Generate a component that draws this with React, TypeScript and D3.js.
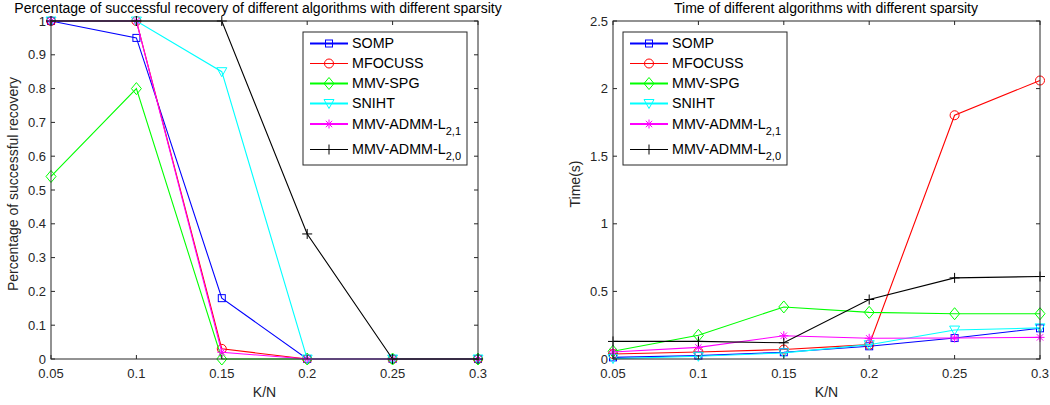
import React from 'react';
import * as d3 from 'd3';

// sparsity levels on the x axis
const kn = [0.05, 0.1, 0.15, 0.2, 0.25, 0.3];

const names = ['SOMP', 'MFOCUSS', 'MMV-SPG', 'SNIHT', 'MMV-ADMM-L', 'MMV-ADMM-L'];
const subs = ['', '', '', '', '2,1', '2,0'];
const colors = ['#0000ff', '#ff0000', '#00ff00', '#00ffff', '#ff00ff', '#000000'];
const markers = ['square', 'circle', 'diamond', 'triDown', 'star', 'plus'];
const legendWidths = [1.8, 1, 1.8, 1.8, 1.8, 1];

// recovery rate
const recSOMP = [1, 0.95, 0.18, 0, 0, 0];
const recMFOCUSS = [1, 1, 0.03, 0, 0, 0];
const recSPG = [0.54, 0.8, 0, 0, 0, 0];
const recSNIHT = [1, 1, 0.85, 0, 0, 0];
const recL21 = [1, 1, 0.02, 0, 0, 0];
const recL20 = [1, 1, 1, 0.37, 0, 0];

// running time (s)
const tSOMP = [0.012, 0.025, 0.05, 0.094, 0.155, 0.227];
const tMFOCUSS = [0.037, 0.052, 0.07, 0.106, 1.803, 2.06];
const tSPG = [0.057, 0.175, 0.385, 0.345, 0.335, 0.335];
const tSNIHT = [0.003, 0.02, 0.045, 0.106, 0.214, 0.23];
const tL21 = [0.052, 0.086, 0.172, 0.153, 0.155, 0.16];
const tL20 = [0.13, 0.13, 0.12, 0.44, 0.6, 0.61];

const recTicks = d3.range(0, 11).map(i => i / 10);
const timeTicks = [0, 0.5, 1, 1.5, 2, 2.5];

const FONT = '"Liberation Sans", Arial, sans-serif';
const AX = '#262626';

function Marker({ type, x, y, color }: { type: string; x: number; y: number; color: string }) {
    const p = { stroke: color, fill: 'none', strokeWidth: 1 };
    if (type === 'square') return <rect x={x - 3.5} y={y - 3.5} width={7} height={7} {...p} />;
    if (type === 'circle') return <circle cx={x} cy={y} r={4.5} {...p} />;
    if (type === 'diamond') return <polygon points={`${x},${y - 6} ${x + 5},${y} ${x},${y + 6} ${x - 5},${y}`} {...p} />;
    if (type === 'triDown') return <polygon points={`${x - 5},${y - 4} ${x + 5},${y - 4} ${x},${y + 5}`} {...p} />;
    if (type === 'star') {
        const r = 4.5, q = 3.2;
        return <path d={`M${x - r},${y}H${x + r}M${x},${y - r}V${y + r}M${x - q},${y - q}L${x + q},${y + q}M${x - q},${y + q}L${x + q},${y - q}`} {...p} />;
    }
    return <path d={`M${x - 5},${y}H${x + 5}M${x},${y - 5}V${y + 5}`} {...p} />;
}

function Panel({ left, series, yMax, yTicks, yLabel, title, titleX, legendX, ylabelX }: {
    left: number; series: number[][]; yMax: number; yTicks: number[]; yLabel: string; title: string;
    titleX: number; legendX: number; ylabelX: number;
}) {
    const top = 21, bottom = 359, right = left + 427;
    const x = d3.scaleLinear().domain([0.05, 0.3]).range([left, right]);
    const y = d3.scaleLinear().domain([0, yMax]).range([bottom, top]);
    const line = d3.line<number>().x((_, i) => x(kn[i])).y(d => y(d));
    const rowY = [43.5, 63.5, 83.5, 103.5, 124, 149.5];

    return (
        <g fontFamily={FONT}>
            {series.map((s, k) => (
                <g key={k}>
                    <path d={line(s) || ''} fill="none" stroke={colors[k]} strokeWidth={1.1} />
                    {s.map((v, i) => <Marker key={i} type={markers[k]} x={x(kn[i])} y={y(v)} color={colors[k]} />)}
                </g>
            ))}
            <rect x={left} y={top} width={right - left} height={bottom - top} fill="none" stroke={AX} strokeWidth={1} />
            {kn.map(t => (
                <g key={t}>
                    <line x1={x(t)} x2={x(t)} y1={bottom} y2={bottom - 4} stroke={AX} />
                    <line x1={x(t)} x2={x(t)} y1={top} y2={top + 4} stroke={AX} />
                    <text x={x(t)} y={bottom + 19} textAnchor="middle" fontSize={13} fill={AX}>{String(t)}</text>
                </g>
            ))}
            {yTicks.map(t => (
                <g key={t}>
                    <line x1={left} x2={left + 4} y1={y(t)} y2={y(t)} stroke={AX} />
                    <line x1={right} x2={right - 4} y1={y(t)} y2={y(t)} stroke={AX} />
                    <text x={left - 5} y={y(t) + 4.5} textAnchor="end" fontSize={13} fill={AX}>{String(t)}</text>
                </g>
            ))}
            <text x={(left + right) / 2} y={397} textAnchor="middle" fontSize={14} fill={AX}>K/N</text>
            <text transform={`translate(${ylabelX},${(top + bottom) / 2 - 6}) rotate(-90)`} textAnchor="middle" fontSize={14} fill={AX}>{yLabel}</text>
            <text x={titleX} y={13} textAnchor="middle" fontSize={14} fill="#000">{title}</text>

            <rect x={legendX} y={32} width={164} height={133} fill="#fff" stroke={AX} strokeWidth={1} />
            {names.map((n, k) => (
                <g key={k}>
                    <line x1={legendX + 7} x2={legendX + 45} y1={rowY[k]} y2={rowY[k]} stroke={colors[k]} strokeWidth={legendWidths[k]} />
                    <Marker type={markers[k]} x={legendX + 26} y={rowY[k]} color={colors[k]} />
                    <text x={legendX + 49} y={rowY[k] + 4.5} fontSize={14.3} fill="#000">
                        {n}
                        {subs[k] && <tspan fontSize={11} dy={6}>{subs[k]}</tspan>}
                    </text>
                </g>
            ))}
        </g>
    );
}

export default function App() {
    return (
        <svg width={1050} height={405} style={{ position: 'absolute', left: 0, top: 0, background: '#fff' }}>
            <Panel left={51} series={[recSOMP, recMFOCUSS, recSPG, recSNIHT, recL21, recL20]} yMax={1} yTicks={recTicks}
                yLabel="Percentage of successful recovery" title="Percentage of successful recovery of different algorithms with different sparsity"
                titleX={258} legendX={303} ylabelX={18} />
            <Panel left={613} series={[tSOMP, tMFOCUSS, tSPG, tSNIHT, tL21, tL20]} yMax={2.5} yTicks={timeTicks}
                yLabel="Time(s)" title="Time of different algorithms with different sparsity"
                titleX={826} legendX={623} ylabelX={580} />
        </svg>
    );
}
